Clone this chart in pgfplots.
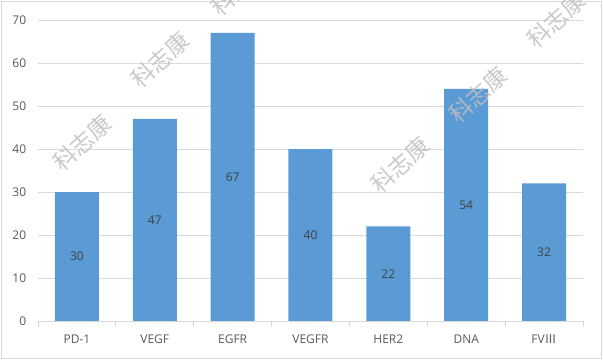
\documentclass[border=0pt]{standalone}
\usepackage{pgfplots}
\pgfplotsset{compat=1.18}
\usepackage{fontspec}
\setmainfont{Open Sans}
\newfontfamily\cjk{Noto Sans CJK SC}
\definecolor{barblue}{HTML}{5B9BD5}
\definecolor{gridgray}{HTML}{D9D9D9}
\definecolor{ticktext}{HTML}{595959}
\definecolor{valtext}{HTML}{404040}
\begin{document}
\begin{tikzpicture}[x=1pt,y=1pt]
\useasboundingbox (0,0) rectangle (603,362);
\draw[gridgray, line width=0.9pt] (1,4) rectangle (601,361);
\begin{axis}[
  at={(38pt,41pt)}, anchor=south west,
  scale only axis, width=545pt, height=301pt,
  ymin=0, ymax=70, ytick={0,10,...,70},
  xmin=-0.5, xmax=6.5,
  xtick={0,...,6},
  xticklabels={PD-1,VEGF,EGFR,VEGFR,HER2,DNA,{FV{\cjk Ⅲ}}},
  minor xtick={-0.5,0.5,...,6.5},
  major x tick style={draw=none},
  minor x tick style={draw=gridgray, line width=0.9pt},
  minor tick length=6pt,
  tick align=outside,
  ytick style={draw=none},
  ymajorgrids, grid style={gridgray, line width=0.9pt},
  axis x line*=bottom, axis y line*=left,
  x axis line style={gridgray, line width=0.9pt, -},
  y axis line style={draw=none},
  tick label style={font=\fontsize{12}{14}\selectfont, text=ticktext},
  xticklabel style={yshift=-6pt},
  yticklabel style={xshift=-4pt},
  /pgf/number format/assume math mode=true,
  ybar, bar width=44pt,
  nodes near coords,
  visualization depends on=rawy\as\rawy,
  every node near coord/.append style={anchor=center, font=\fontsize{12}{14}\selectfont, text=valtext, shift={(axis direction cs:0,-\rawy/2)}},
  clip=false,
]
\addplot[fill=barblue, draw=none] coordinates {(0,30) (1,47) (2,67) (3,40) (4,22) (5,54) (6,32)};
\end{axis}
\begin{scope}
\clip (0,0) rectangle (603,362);
\foreach \px/\py in {82/143, 160/60, 240/-12, 400/165, 478/95, 556/20} {
  \node[rotate=42, text=black!25, opacity=0.85, font=\cjk\fontsize{23}{25}\selectfont] at (\px,362-\py) {科志康};
}
\end{scope}
\end{tikzpicture}
\end{document}
